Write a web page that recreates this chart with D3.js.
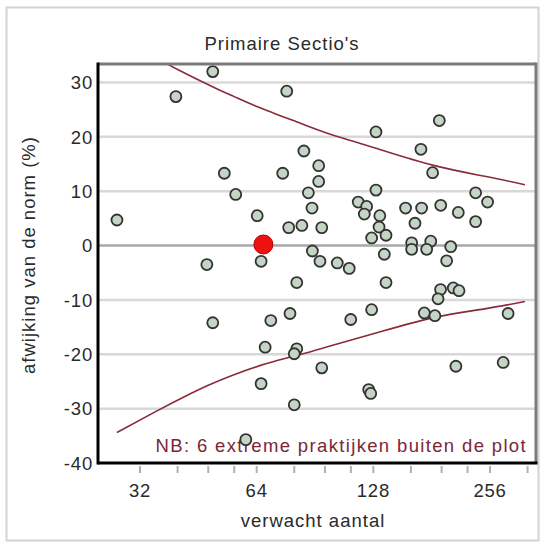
<!DOCTYPE html>
<html>
<head>
<meta charset="utf-8">
<script src="https://cdn.jsdelivr.net/npm/d3@7/dist/d3.min.js"></script>
<style>
  html, body { margin: 0; padding: 0; background: #fff; }
  svg { display: block; font-family: "Liberation Sans", Arial, sans-serif; }
</style>
</head>
<body>
<svg id="chart" width="543" height="548"></svg>
<script>
// Expected count per practice (x) and deviation from norm in % (y)
const expected = [
  27.9, 39.6, 49.3, 76.5, 52.8, 56.5, 64.2, 74.7, 84.7, 87.0,
  88.9, 77.4, 83.7, 92.5, 92.5, 94.2, 130, 189.4, 169.8, 182,
  130, 117, 123, 121.3, 133, 132.4, 126.7, 138, 155, 170.5,
  191, 163.9, 212, 235, 252.3, 235, 160.7, 160.7, 180, 175.7,
  202.7, 136.6, 197.8, 89.1, 93.2, 103.3, 110.9, 138, 190.8, 188,
  205.8, 212.9, 126.7, 111.9, 173.3, 184.5, 285, 94.2, 209, 276.8,
  124.5, 126, 65.7, 47.6, 81.2, 49.3, 69.6, 78.0, 67.3, 81.2,
  80.0, 65.7, 80.0, 60.0
];
const deviation = [
  4.7, 27.4, 32.0, 28.4, 13.3, 9.4, 5.5, 13.3, 17.4, 9.7,
  6.9, 3.3, 3.7, 14.7, 11.8, 3.3, 20.9, 23.0, 17.7, 13.4,
  10.2, 8.0, 7.2, 5.8, 5.5, 3.4, 1.4, 1.9, 6.9, 6.9,
  7.4, 4.1, 6.1, 9.7, 8.0, 4.4, 0.5, -0.7, 0.8, -0.7,
  -0.2, -1.6, -2.8, -1.0, -2.9, -3.2, -4.2, -6.8, -8.1, -9.8,
  -7.8, -8.3, -11.8, -13.6, -12.4, -12.9, -12.5, -22.5, -22.2, -21.5,
  -26.5, -27.2, -2.9, -3.5, -6.8, -14.2, -13.8, -12.5, -18.7, -19.0,
  -19.9, -25.4, -29.3, -35.7
];

// The highlighted practice
const ownExpected = [66.6];
const ownDeviation = [0.2];

// Control limits of the funnel
const upperLimitN = [36, 40, 50, 56, 64, 83, 100, 130, 182, 250, 315];
const upperLimitPct = [34.2, 32.4, 29.0, 27.4, 25.6, 22.5, 20.4, 17.9, 14.8, 12.7, 11.2];
const lowerLimitN = [27.9, 35, 41.4, 48, 55.7, 67.9, 83.3, 100, 130, 182, 250, 315];
const lowerLimitPct = [-34.4, -30.6, -27.9, -25.7, -23.8, -21.7, -20.0, -18.4, -16.1, -13.3, -11.6, -10.3];

// Axis ticks
const xTickValues = [32, 64, 128, 256];
const xMinorTicks = [40, 48, 56, 80, 96, 112, 160, 192, 224, 320];
const yTickValues = [-40, -30, -20, -10, 0, 10, 20, 30];

const title = "Primaire Sectio's";
const xTitle = "verwacht aantal";
const yTitle = "afwijking van de norm (%)";
const note = "NB: 6 extreme praktijken buiten de plot";

const svg = d3.select("#chart");
const plot = { left: 98, right: 536, top: 64, bottom: 463 };
const fontSize = 18.5;
const textColor = "#2a2a2a";

const x = d3.scaleLog().base(2).domain([24.93, 336.4]).range([plot.left, plot.right]);
const y = d3.scaleLinear().domain([-40, 33.4]).range([plot.bottom, plot.top]);

// Outer panel border
svg.append("rect")
  .attr("x", 6.5).attr("y", 7.5).attr("width", 532).attr("height", 533)
  .attr("fill", "#fff").attr("stroke", "#d4d4d4").attr("stroke-width", 2);

// Title
svg.append("text")
  .attr("x", 282).attr("y", 50)
  .attr("text-anchor", "middle")
  .attr("font-size", fontSize).attr("letter-spacing", 1)
  .attr("fill", textColor)
  .text(title);

svg.append("defs").append("clipPath").attr("id", "plotclip")
  .append("rect")
  .attr("x", plot.left).attr("y", plot.top)
  .attr("width", plot.right - plot.left).attr("height", plot.bottom - plot.top);

// Horizontal gridlines
svg.append("g")
  .selectAll("line")
  .data(yTickValues.filter(d => d > -40))
  .join("line")
  .attr("x1", plot.left).attr("x2", plot.right)
  .attr("y1", d => y(d)).attr("y2", d => y(d))
  .attr("stroke", d => d === 0 ? "#a8a8a8" : "#d8d8d8")
  .attr("stroke-width", 2.5);

// Y axis labels
svg.append("g")
  .selectAll("text")
  .data(yTickValues)
  .join("text")
  .attr("x", 93).attr("y", d => y(d))
  .attr("dy", "0.36em")
  .attr("text-anchor", "end")
  .attr("font-size", fontSize).attr("letter-spacing", 0.8)
  .attr("fill", textColor)
  .text(d => d);

// X axis ticks and labels
const xAxis = svg.append("g");
xAxis.selectAll("line")
  .data(xTickValues.concat(xMinorTicks).filter(d => x(d) <= plot.right))
  .join("line")
  .attr("x1", d => x(d)).attr("x2", d => x(d))
  .attr("y1", plot.bottom + 3).attr("y2", plot.bottom + 10)
  .attr("stroke", "#b0b0b0").attr("stroke-width", 2);
xAxis.selectAll("text")
  .data(xTickValues)
  .join("text")
  .attr("x", d => x(d)).attr("y", 497)
  .attr("text-anchor", "middle")
  .attr("font-size", fontSize).attr("letter-spacing", 0.8)
  .attr("fill", textColor)
  .text(d => d);

// Axis titles
svg.append("text")
  .attr("x", 313).attr("y", 527)
  .attr("text-anchor", "middle")
  .attr("font-size", fontSize).attr("letter-spacing", 1)
  .attr("fill", textColor)
  .text(xTitle);
svg.append("text")
  .attr("transform", "translate(35,255) rotate(-90)")
  .attr("text-anchor", "middle")
  .attr("font-size", fontSize).attr("letter-spacing", 1)
  .attr("fill", textColor)
  .text(yTitle);

// Funnel limits
const limitLine = d3.line().x(d => x(d[0])).y(d => y(d[1])).curve(d3.curveNatural);
const limits = svg.append("g").attr("clip-path", "url(#plotclip)");
limits.append("path")
  .datum(upperLimitN.map((n, i) => [n, upperLimitPct[i]]))
  .attr("d", limitLine)
  .attr("fill", "none").attr("stroke", "#8a2b3a").attr("stroke-width", 1.6);
limits.append("path")
  .datum(lowerLimitN.map((n, i) => [n, lowerLimitPct[i]]))
  .attr("d", limitLine)
  .attr("fill", "none").attr("stroke", "#8a2b3a").attr("stroke-width", 1.6);

// Note on practices outside the plot
svg.append("text")
  .attr("x", 527).attr("y", 452)
  .attr("text-anchor", "end")
  .attr("font-size", fontSize).attr("letter-spacing", 1.35)
  .attr("fill", "#7a2638")
  .text(note);

// Practices
svg.append("g")
  .attr("clip-path", "url(#plotclip)")
  .selectAll("circle")
  .data(expected.map((n, i) => [n, deviation[i]]))
  .join("circle")
  .attr("cx", d => x(d[0])).attr("cy", d => y(d[1]))
  .attr("r", 5.5)
  .attr("fill", "#c5d5c5").attr("stroke", "#333").attr("stroke-width", 1.8);

// Own practice
svg.append("g")
  .selectAll("circle")
  .data(ownExpected.map((n, i) => [n, ownDeviation[i]]))
  .join("circle")
  .attr("cx", d => x(d[0])).attr("cy", d => y(d[1]))
  .attr("r", 9.5)
  .attr("fill", "#ee1111").attr("stroke", "#b00000").attr("stroke-width", 1);

// Plot frame: dark axes left/bottom, grey top/right
svg.append("line")
  .attr("x1", plot.left).attr("x2", plot.right).attr("y1", plot.top).attr("y2", plot.top)
  .attr("stroke", "#7a7a7a").attr("stroke-width", 3);
svg.append("line")
  .attr("x1", plot.right).attr("x2", plot.right).attr("y1", plot.top - 1.5).attr("y2", plot.bottom)
  .attr("stroke", "#7a7a7a").attr("stroke-width", 3);
svg.append("line")
  .attr("x1", plot.left).attr("x2", plot.left).attr("y1", plot.top - 1.5).attr("y2", plot.bottom + 1.5)
  .attr("stroke", "#000").attr("stroke-width", 3);
svg.append("line")
  .attr("x1", plot.left).attr("x2", plot.right + 1.5).attr("y1", plot.bottom).attr("y2", plot.bottom)
  .attr("stroke", "#000").attr("stroke-width", 3);
</script>
</body>
</html>
